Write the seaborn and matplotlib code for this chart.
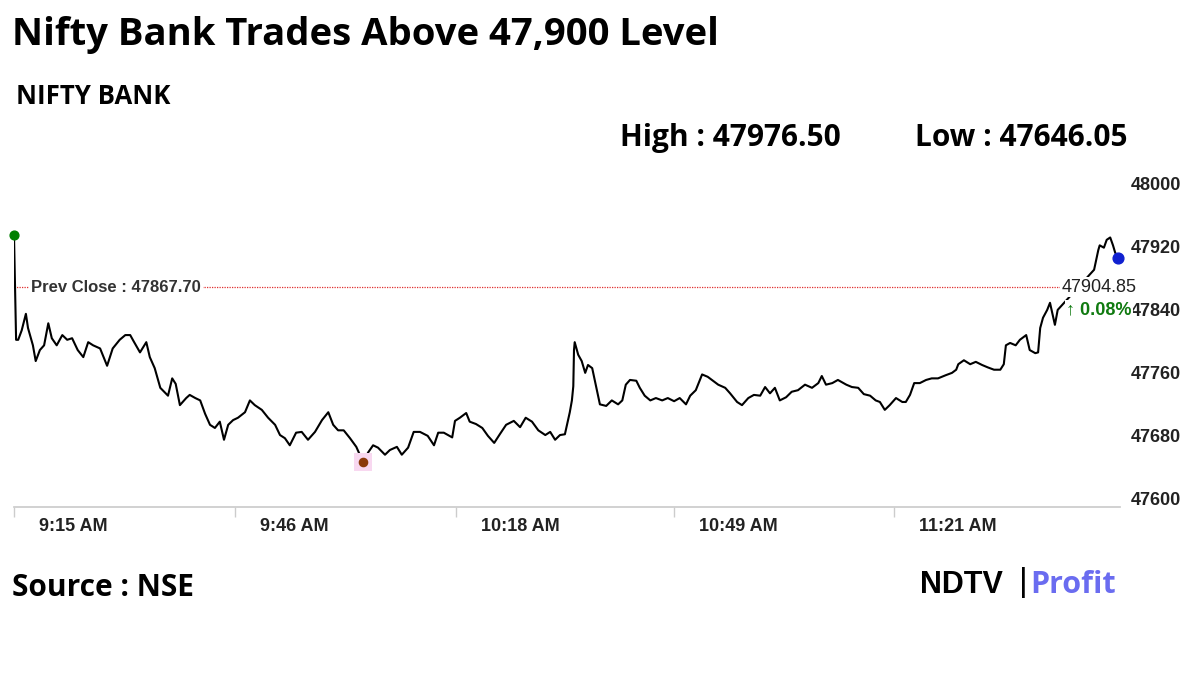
import matplotlib
matplotlib.use("Agg")
import matplotlib.pyplot as plt
import seaborn as sns
import pandas as pd

minutes = [0, 0.3, 0.6, 1.1, 1.7, 2.0, 2.7, 3.1, 3.7, 4.3, 4.9, 5.4, 6.1, 6.9, 7.6, 8.3, 9.1, 9.9, 10.6, 11.3,
           12.3, 13.3, 14.1, 15.1, 15.9, 16.6, 17.1, 18.0, 18.9, 19.4, 20.1, 20.9, 22.0, 22.6, 23.1, 23.7, 24.6,
           25.1, 25.9, 26.6, 27.3, 28.0, 28.7, 29.4, 30.0, 30.6, 31.3, 32.0, 33.0, 33.7, 34.4, 35.4, 36.3, 37.3,
           38.0, 38.7, 39.4, 40.3, 41.1, 42.0, 43.0, 44.0, 44.9, 45.6, 46.3, 47.1, 48.0, 48.9, 49.4, 49.9, 50.6,
           51.3, 52.0, 53.0, 53.7, 54.7, 55.4, 56.3, 57.1, 58.0, 59.1, 60.0, 60.6, 61.4, 62.6, 63.0, 63.7, 64.6,
           65.1, 66.0, 66.9, 67.7, 68.6, 69.4, 70.3, 71.4, 72.3, 73.1, 74.0, 74.9, 75.9, 76.6, 77.3, 78.0, 78.7,
           79.4, 79.7, 79.9, 80.0, 80.1, 80.6, 81.1, 81.6, 82.0, 82.6, 83.1, 83.7, 84.6, 85.4, 86.3, 86.9, 87.4,
           88.0, 88.9, 89.4, 90.1, 90.9, 91.7, 92.6, 93.4, 94.3, 95.1, 96.0, 96.6, 97.4, 98.3, 99.1, 99.7, 100.6,
           101.6, 102.3, 103.3, 104.0, 104.9, 105.7, 106.6, 107.3, 108.0, 108.7, 109.4, 110.3, 111.1, 112.0,
           113.0, 114.0, 114.9, 115.4, 116.0, 116.9, 117.7, 118.9, 119.7, 120.6, 121.4, 122.3, 123.1, 123.7,
           124.4, 125.1, 126.0, 126.9, 127.4, 128.0, 128.6, 129.4, 130.3, 131.1, 132.0, 133.1, 134.0, 134.6,
           134.9, 135.7, 136.6, 137.4, 138.3, 139.1, 140.0, 140.9, 141.4, 141.7, 142.3, 143.1, 143.7, 144.6,
           145.1, 145.9, 146.3, 146.6, 147.0, 147.6, 148.0, 148.3, 148.7, 149.1, 154.3, 154.9, 155.1, 155.7,
           156.1, 156.6, 157.0, 157.3, 157.7]
prices = [47934, 47801, 47801, 47813, 47834, 47816, 47794, 47774, 47788, 47794, 47822, 47803, 47794, 47807,
          47801, 47803, 47788, 47779, 47798, 47794, 47790, 47768, 47790, 47801, 47807, 47807, 47799, 47785,
          47798, 47779, 47765, 47740, 47730, 47752, 47745, 47718, 47727, 47731, 47727, 47724, 47707, 47693,
          47689, 47697, 47674, 47693, 47699, 47702, 47709, 47724, 47718, 47712, 47702, 47693, 47680, 47676,
          47667, 47683, 47684, 47674, 47684, 47699, 47709, 47693, 47686, 47686, 47676, 47665, 47655, 47646,
          47658, 47667, 47664, 47655, 47661, 47665, 47655, 47664, 47684, 47684, 47679, 47667, 47683, 47683,
          47677, 47698, 47702, 47708, 47697, 47694, 47689, 47679, 47670, 47681, 47693, 47698, 47690, 47702,
          47697, 47686, 47680, 47684, 47674, 47680, 47681, 47709, 47724, 47742, 47788, 47798, 47782, 47774,
          47759, 47769, 47765, 47744, 47719, 47717, 47724, 47719, 47724, 47744, 47750, 47749, 47740, 47730,
          47724, 47727, 47724, 47727, 47723, 47727, 47719, 47730, 47737, 47757, 47754, 47750, 47744, 47740,
          47733, 47722, 47718, 47727, 47731, 47730, 47741, 47733, 47740, 47724, 47728, 47735, 47737, 47744,
          47740, 47746, 47755, 47744, 47746, 47750, 47744, 47741, 47740, 47732, 47730, 47724, 47722, 47712,
          47718, 47727, 47722, 47722, 47731, 47746, 47746, 47750, 47752, 47752, 47756, 47759, 47763, 47770,
          47775, 47770, 47773, 47769, 47766, 47763, 47763, 47770, 47794, 47797, 47794, 47801, 47807, 47788,
          47784, 47785, 47816, 47829, 47839, 47848, 47836, 47820, 47839, 47890, 47915, 47921, 47918, 47928,
          47931, 47921, 47912, 47905]

tick_minutes = [0, 31.6, 63.1, 94.3, 125.7]
tick_labels = ["9:15 AM", "9:46 AM", "10:18 AM", "10:49 AM", "11:21 AM"]
y_ticks = [47600, 47680, 47760, 47840, 47920, 48000]
prev_close = 47867.70
day_high = 47976.50
day_low = 47646.05
last_price = 47904.85
change_pct = 0.08
low_minute = 49.9

df = pd.DataFrame({"minute": minutes, "price": prices})

sns.set_theme(style="white")
plt.rcParams['font.family'] = ['Liberation Sans', 'DejaVu Sans']

fig = plt.figure(figsize=(12, 6.75), dpi=100)
ax = fig.add_axes([14/1200, 1-507/675, (1120-14)/1200, (507-180)/675])
sns.lineplot(data=df, x="minute", y="price", ax=ax, color="black", linewidth=1.5)
ax.set_xlim(0, 158)
ax.set_ylim(47588.6, 48004)

ax.axhline(prev_close, color="#e03030", linestyle=(0, (1, 1)), linewidth=0.9, zorder=1)
ax.text(2.4, prev_close, "Prev Close : 47867.70", fontsize=12, fontweight="bold", color="#333333",
        va="center", ha="left", bbox=dict(facecolor="white", edgecolor="none", pad=1.5), zorder=3)

ax.scatter([minutes[0]], [prices[0]], color="green", s=40, zorder=5, clip_on=False)
ax.scatter([low_minute], [day_low], color="#f8d8f0", marker="s", s=160, zorder=4, linewidths=0)
ax.scatter([low_minute], [day_low], color="#8b3a0a", s=35, zorder=5)
ax.scatter([minutes[-1]], [prices[-1]], color="#1020d0", s=60, zorder=5, clip_on=False)

ax.text(155.0, 47868, f"{last_price:.2f}", fontsize=13, color="#222222", ha="center", va="center",
        bbox=dict(facecolor="white", edgecolor="none", pad=1), zorder=6, clip_on=False)
ax.text(155.0, 47839, f"\u2191 {change_pct:.2f}%", fontsize=13, fontweight="bold", color="#107a10",
        ha="center", va="center", bbox=dict(facecolor="white", edgecolor="none", pad=1), zorder=6,
        clip_on=False)

ax.yaxis.tick_right()
ax.set_yticks(y_ticks)
ax.set_yticklabels([str(v) for v in y_ticks], fontsize=13, fontweight="bold", color="#222222")
ax.tick_params(axis="y", length=0, pad=8)
ax.set_xticks(tick_minutes)
ax.set_xticklabels([])
ax.tick_params(axis="x", length=7, color="#cccccc", width=1, direction="out", bottom=True)
for tm, tl in zip(tick_minutes, tick_labels):
    ax.annotate(tl, xy=(tm, 0), xycoords=("data", "axes fraction"), xytext=(18, -8),
                textcoords="offset points", ha="left", va="top", fontsize=13, fontweight="bold", color="#222222")
for s in ["top", "left", "right"]:
    ax.spines[s].set_visible(False)
ax.spines["bottom"].set_color("#cccccc")
ax.set_xlabel("")
ax.set_ylabel("")

fig.text(12/1200, 1-35/675, "Nifty Bank Trades Above 47,900 Level", fontsize=27.5, fontweight="bold",
         family="Open Sans", va="center", ha="left", color="black")
fig.text(16/1200, 1-96/675, "NIFTY BANK", fontsize=18.5, fontweight="bold", family="Open Sans",
         va="center", ha="left", color="black")
fig.text(620/1200, 1-138/675, f"High : {day_high:.2f}", fontsize=21.5, fontweight="bold", family="Open Sans",
         va="center", ha="left", color="black")
fig.text(915/1200, 1-138/675, f"Low : {day_low:.2f}", fontsize=21.5, fontweight="bold", family="Open Sans",
         va="center", ha="left", color="black")
fig.text(12/1200, 1-588/675, "Source : NSE", fontsize=21.5, fontweight="bold", family="Open Sans",
         va="center", ha="left", color="black")
fig.text(920/1200, 1-585/675, "NDTV", fontsize=22, fontweight="heavy", family="Liberation Sans",
         va="center", ha="left", color="black")
fig.text(1019/1200, 1-583/675, "|", fontsize=24, family="Liberation Sans", va="center", ha="left", color="black")
fig.text(1030/1200, 1-585/675, "Profit", fontsize=22, fontweight="bold", family="Open Sans",
         va="center", ha="left", color="#6a6cf0")

fig.savefig("out.png", dpi=100)
